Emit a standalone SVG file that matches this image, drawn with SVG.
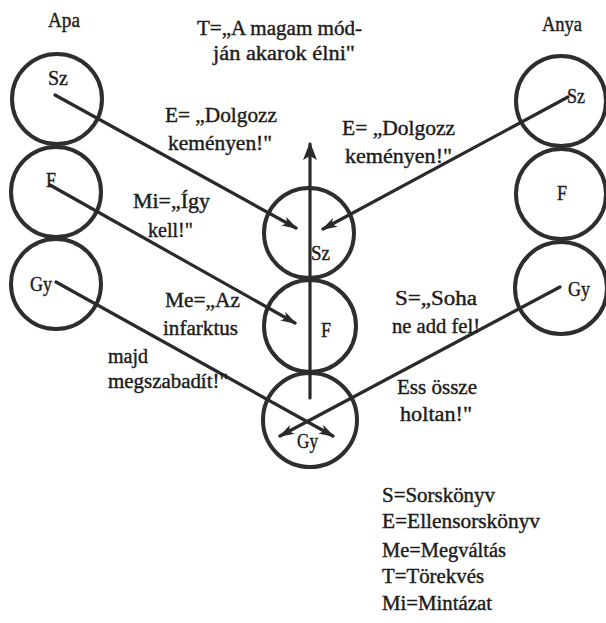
<svg xmlns="http://www.w3.org/2000/svg" width="606" height="623" viewBox="0 0 606 623">
<style>
  .c { fill: none; stroke: #2e2e2e; stroke-width: 4; }
  .ln { fill: none; stroke: #2a2a2a; stroke-width: 3.2; stroke-linecap: round; }
  text { font-family: "Liberation Serif", "Times New Roman", serif; font-size: 20px; fill: #1c1c1c; stroke: #1c1c1c; stroke-width: 0.4; }
</style>
<defs>
  <marker id="ah" markerUnits="userSpaceOnUse" markerWidth="18" markerHeight="12" refX="14" refY="5" orient="auto">
    <path d="M0,0 L16,5 L0,10 L4,5 z" fill="#2a2a2a"/>
  </marker>
  <marker id="ahBig" markerUnits="userSpaceOnUse" markerWidth="20" markerHeight="16" refX="16" refY="7" orient="auto">
    <path d="M0,0 L18,7 L0,14 L4,7 z" fill="#2a2a2a"/>
  </marker>
</defs>
<rect width="606" height="623" fill="#ffffff"/>

<g id="apa">
  <text x="48" y="27" textLength="32" lengthAdjust="spacingAndGlyphs">Apa</text>
</g>
<g id="anya">
  <text x="542" y="31" textLength="40" lengthAdjust="spacingAndGlyphs">Anya</text>
</g>

<g id="apa-sz">
  <circle class="c" cx="57" cy="99" r="45"/>
  <text x="48" y="85" textLength="20" lengthAdjust="spacingAndGlyphs">Sz</text>
</g>
<g id="apa-f">
  <circle class="c" cx="56" cy="192" r="45"/>
  <text x="46" y="187" textLength="10" lengthAdjust="spacingAndGlyphs">F</text>
</g>
<g id="apa-gy">
  <circle class="c" cx="56" cy="284" r="45"/>
  <text x="30" y="291" textLength="22" lengthAdjust="spacingAndGlyphs">Gy</text>
</g>

<g id="anya-sz">
  <circle class="c" cx="561" cy="101" r="45"/>
  <text x="567" y="103" textLength="18" lengthAdjust="spacingAndGlyphs">Sz</text>
</g>
<g id="anya-f">
  <circle class="c" cx="561" cy="194" r="45"/>
  <text x="557" y="200" textLength="10" lengthAdjust="spacingAndGlyphs">F</text>
</g>
<g id="anya-gy">
  <circle class="c" cx="561" cy="288" r="46"/>
  <text x="568" y="296" textLength="22" lengthAdjust="spacingAndGlyphs">Gy</text>
</g>

<g id="gyerek-sz">
  <circle class="c" cx="309" cy="233" r="45"/>
  <text x="311" y="260" textLength="19" lengthAdjust="spacingAndGlyphs">Sz</text>
</g>
<g id="gyerek-f">
  <circle class="c" cx="310" cy="326" r="46"/>
  <text x="321" y="337" textLength="10" lengthAdjust="spacingAndGlyphs">F</text>
</g>
<g id="gyerek-gy">
  <circle class="c" cx="310" cy="420" r="47"/>
  <text x="297" y="448" textLength="21" lengthAdjust="spacingAndGlyphs">Gy</text>
</g>

<g id="connectors">
  <line class="ln" x1="310" y1="398" x2="310" y2="144" marker-end="url(#ahBig)"/>
  <line class="ln" x1="55" y1="95" x2="296" y2="228" marker-end="url(#ah)"/>
  <line class="ln" x1="50" y1="185" x2="295" y2="323" marker-end="url(#ah)"/>
  <line class="ln" x1="56" y1="282" x2="333" y2="436" marker-end="url(#ah)"/>
  <line class="ln" x1="568" y1="97" x2="323" y2="229" marker-end="url(#ah)"/>
  <line class="ln" x1="560" y1="287" x2="280" y2="436" marker-end="url(#ah)"/>
</g>

<g id="labels">
  <text x="197" y="35" textLength="165" lengthAdjust="spacingAndGlyphs">T=„A magam mód-</text>
  <text x="213" y="60" textLength="142" lengthAdjust="spacingAndGlyphs">ján akarok élni"</text>

  <text x="165" y="122" textLength="112" lengthAdjust="spacingAndGlyphs">E= „Dolgozz</text>
  <text x="168" y="150" textLength="104" lengthAdjust="spacingAndGlyphs">keményen!"</text>

  <text x="342" y="135" textLength="113" lengthAdjust="spacingAndGlyphs">E= „Dolgozz</text>
  <text x="345" y="163" textLength="107" lengthAdjust="spacingAndGlyphs">keményen!"</text>

  <text x="133" y="208" textLength="77" lengthAdjust="spacingAndGlyphs">Mi=„Így</text>
  <text x="148" y="237" textLength="45" lengthAdjust="spacingAndGlyphs">kell!"</text>

  <text x="165" y="307" textLength="75" lengthAdjust="spacingAndGlyphs">Me=„Az</text>
  <text x="163" y="335" textLength="75" lengthAdjust="spacingAndGlyphs">infarktus</text>
  <text x="108" y="363" textLength="40" lengthAdjust="spacingAndGlyphs">majd</text>
  <text x="108" y="388" textLength="120" lengthAdjust="spacingAndGlyphs">megszabadít!"</text>

  <text x="395" y="305" textLength="82" lengthAdjust="spacingAndGlyphs">S=„Soha</text>
  <text x="392" y="333" textLength="88" lengthAdjust="spacingAndGlyphs">ne add fel!</text>
  <text x="397" y="394" textLength="80" lengthAdjust="spacingAndGlyphs">Ess össze</text>
  <text x="400" y="421" textLength="72" lengthAdjust="spacingAndGlyphs">holtan!"</text>
</g>

<g id="legend">
  <text x="382" y="502" textLength="113" lengthAdjust="spacingAndGlyphs">S=Sorskönyv</text>
  <text x="382" y="528" textLength="158" lengthAdjust="spacingAndGlyphs">E=Ellensorskönyv</text>
  <text x="382" y="557" textLength="124" lengthAdjust="spacingAndGlyphs">Me=Megváltás</text>
  <text x="382" y="583" textLength="102" lengthAdjust="spacingAndGlyphs">T=Törekvés</text>
  <text x="382" y="610" textLength="110" lengthAdjust="spacingAndGlyphs">Mi=Mintázat</text>
</g>
</svg>
